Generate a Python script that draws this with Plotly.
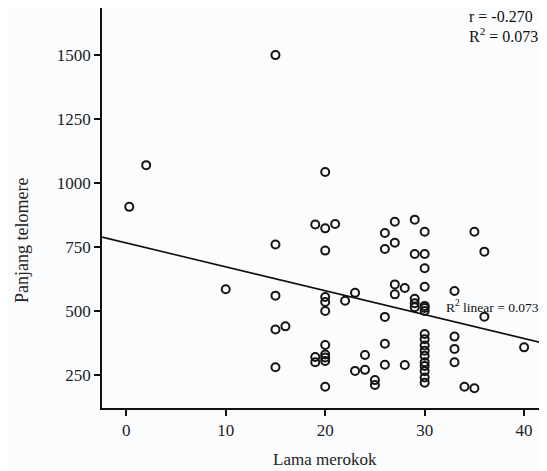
import plotly.graph_objects as go

# Data
x_lama = [0.3, 2, 10,
          15, 15, 15, 15, 15,
          16,
          19, 19, 19,
          20, 20, 20, 20, 20, 20, 20, 20, 20, 20, 20,
          21, 22, 23, 23, 24, 24, 25, 25,
          26, 26, 26, 26, 26,
          27, 27, 27, 27,
          28, 28,
          29, 29, 29, 29, 29,
          30, 30, 30, 30, 30, 30, 30, 30, 30, 30, 30, 30, 30, 30, 30, 30, 30,
          33, 33, 33, 33,
          34, 35, 35, 36, 36, 40]
y_telomere = [907, 1070, 585,
              1500, 760, 560, 428, 280,
              440,
              838, 320, 300,
              1043, 823, 736, 555, 535, 500, 367, 330, 318, 305, 204,
              840, 540, 571, 266, 328, 270, 230, 211,
              805, 742, 477, 372, 290,
              849, 767, 604, 565,
              590, 289,
              857, 723, 548, 530, 515,
              810, 723, 667, 595, 520, 512, 500, 410, 390, 365, 345, 325, 300, 285, 265, 240, 220,
              578, 400, 352, 300,
              204, 810, 198, 732, 478, 358]

# Fit line as shown on the chart
fit_intercept = 766.0
fit_slope = -9.34

x_range = [-2.44, 42.3]
y_range = [121, 1684]
x_ticks = [0, 10, 20, 30, 40]
y_ticks = [250, 500, 750, 1000, 1250, 1500]

x_title = "Lama merokok"
y_title = "Panjang telomere"
r_text = "r = -0.270"
r2_text = "R<sup>2</sup> = 0.073"
r2_lin_text = "R<sup>2</sup> linear = 0.073"

FONT = "Liberation Serif, Times New Roman, serif"
INK = "#151515"

fig = go.Figure()
fig.add_trace(go.Scatter(
    x=x_lama, y=y_telomere, mode="markers",
    marker=dict(symbol="circle-open", size=8, color=INK,
                line=dict(width=2, color=INK)),
    showlegend=False, hoverinfo="x+y"))

fx = x_range
fy = [fit_intercept + fit_slope * v for v in fx]
fig.add_trace(go.Scatter(x=fx, y=fy, mode="lines",
                         line=dict(color="#111111", width=1.6),
                         showlegend=False, hoverinfo="skip"))

fig.add_annotation(x=31.9, y=516, xref="x", yref="y", text=r2_lin_text,
                   showarrow=False, xanchor="left", yanchor="middle",
                   font=dict(family=FONT, size=13.5, color="#111"))
fig.add_annotation(x=0.82, y=0.98, xref="paper", yref="paper", text=r_text,
                   showarrow=False, xanchor="left", yanchor="middle",
                   font=dict(family=FONT, size=16, color="#111"))
fig.add_annotation(x=0.82, y=0.932, xref="paper", yref="paper", text=r2_text,
                   showarrow=False, xanchor="left", yanchor="middle",
                   font=dict(family=FONT, size=16, color="#111"))
# axis titles
fig.add_annotation(x=0.5, y=-0.13, xref="paper", yref="paper", text=x_title,
                   showarrow=False, xanchor="center", yanchor="middle",
                   font=dict(family=FONT, size=17, color="#222"))
fig.add_annotation(x=-0.18, y=0.42, xref="paper", yref="paper", text=y_title,
                   textangle=-90, showarrow=False, xanchor="center",
                   yanchor="middle",
                   font=dict(family=FONT, size=18, color="#222"))

axis_common = dict(showline=True, linecolor="#111", linewidth=1.6,
                   ticks="outside", ticklen=6, tickwidth=1.5, tickcolor="#111",
                   showgrid=False, zeroline=False,
                   tickfont=dict(family=FONT, size=17, color="#222"))

fig.update_xaxes(range=x_range, tickvals=x_ticks, **axis_common)
fig.update_yaxes(range=y_range, tickvals=y_ticks, **axis_common)

# page has an 8px body margin, so the figure is sized to fit the window
fig.update_layout(width=539, height=463,
                  margin=dict(l=94, r=0, t=0, b=63),
                  paper_bgcolor="#fbfcfe", plot_bgcolor="#fbfcfe",
                  font=dict(family=FONT))

fig.write_html("out.html")
